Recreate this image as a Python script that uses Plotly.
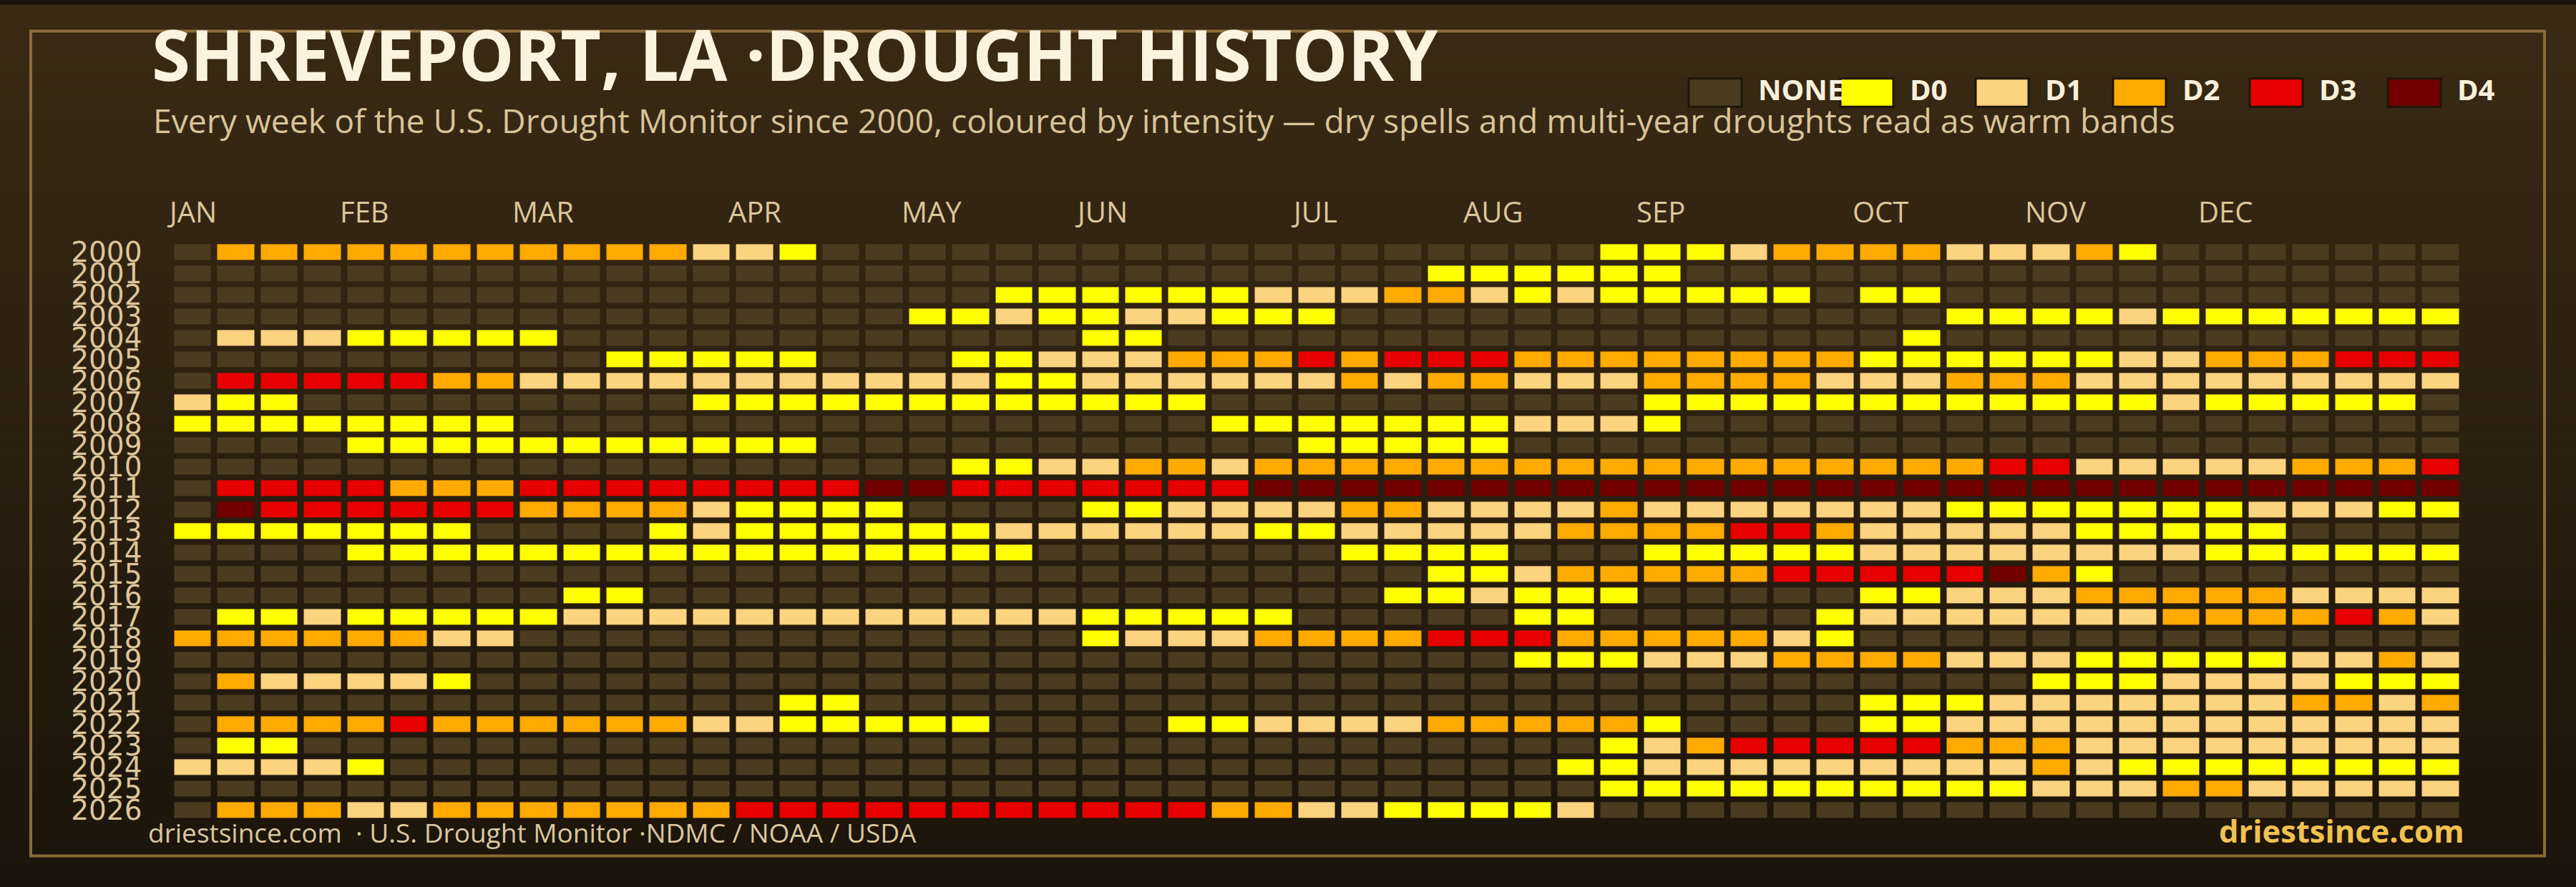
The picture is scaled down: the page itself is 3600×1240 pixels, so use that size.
import plotly.graph_objects as go

# ---------------- data ----------------
years = list(range(2000, 2027))
weeks = list(range(53))
month_labels = ["JAN", "FEB", "MAR", "APR", "MAY", "JUN", "JUL", "AUG", "SEP", "OCT", "NOV", "DEC"]
month_weeks = [0, 4, 8, 13, 17, 21, 26, 30, 34, 39, 43, 47]
levels = ["NONE", "D0", "D1", "D2", "D3", "D4"]
level_colors = ["#4a3b21", "#ffff00", "#fcd37f", "#ffaa00", "#e60000", "#730000"]

# weekly drought category per year ('.' = none, 0-4 = D0-D4), blocks of 10 weeks
w2000 = ".222222222 22110..... .......... ...0001222 211120.... ..."
w2001 = ".......... .......... .........0 00000..... .......... ..."
w2002 = ".......... .........0 0000011122 10100000.0 0......... ..."
w2003 = ".......... .......001 0011000... .......... .000010000 000"
w2004 = ".11100000. .......... .00....... .......... 0......... ..."
w2005 = ".......... 00000...00 1112223233 3222222220 0000011222 333"
w2006 = ".333332211 1111111110 0111111212 2111222211 1222111111 111"
w2007 = "100....... ..00000000 0000...... ....000000 0000001000 00."
w2008 = "00000000.. .......... ....000000 01110..... .......... ..."
w2009 = "....000000 00000..... ......0000 0......... .......... ..."
w2010 = ".......... ........00 1122122222 2222222222 2233111112 223"
w2011 = ".333322233 3333334433 3333344444 4444444444 4444444444 444"
w2012 = ".433333322 2210000... .001111221 1112111111 1000000011 100"
w2013 = "0000000... .010000001 1111100111 1122223321 111100000. ..."
w2014 = "....000000 0000000000 .......000 0...000001 1111111000 000"
w2015 = ".......... .......... .........0 0122222333 33420..... ..."
w2016 = ".........0 0......... ........00 1000.....0 0111222221 111"
w2017 = ".001000001 1111111111 100000.... .00.....01 1111112222 321"
w2018 = "22222211.. .......... .011122223 332222210. .......... ..."
w2019 = ".......... .......... .......... .000111222 2111000001 121"
w2020 = ".211110... .......... .......... .......... ...0001111 000"
w2021 = ".......... ....00.... .......... .........0 0011111112 212"
w2022 = ".222232222 221100000. ...0011112 22220....0 0111111111 111"
w2023 = ".00....... .......... .......... ...0123333 3222111111 111"
w2024 = "11110..... .......... .......... ..00111111 1112100000 000"
w2025 = ".......... .......... .......... ...0000000 0001112211 111"
w2026 = ".222112222 2223333333 3333221100 001....... .......... ..."

rows = [w2000, w2001, w2002, w2003, w2004, w2005, w2006, w2007, w2008, w2009,
        w2010, w2011, w2012, w2013, w2014, w2015, w2016, w2017, w2018, w2019,
        w2020, w2021, w2022, w2023, w2024, w2025, w2026]


def decode(s):
    s = s.replace(" ", "")
    assert len(s) == 53, (s, len(s))
    return [-1 if ch == "." else int(ch) for ch in s]


z = [decode(r) for r in rows]

# ---------------- styling helpers ----------------
W, H = 3600, 1240
FONT = "Open Sans"
PITCH = (3441 - 239.5) / 53.0


def px(x):
    return x / W


def py(y):
    return 1 - y / H


# stepped colour scale for -1..4
n = len(level_colors)
cs = []
for i, c in enumerate(level_colors):
    a = 0 if i == 0 else (i - 0.5) / (n - 1)
    b = 1 if i == n - 1 else (i + 0.5) / (n - 1)
    cs.append([a, c])
    cs.append([b, c])

fig = go.Figure()
fig.add_trace(go.Heatmap(
    x=weeks, y=years, z=z, zmin=-1, zmax=4, colorscale=cs, showscale=False,
    xgap=9, ygap=8, hoverinfo="skip"))

shapes = []
# background gradient
nb = 62
for i in range(nb):
    y0, y1 = i * H / nb, (i + 1) * H / nb
    ym = (y0 + y1) / 2
    r = 58.4 - 0.0247 * ym
    g = 42.4 - 0.0185 * ym
    b = 20.1 - 0.0079 * ym
    col = "rgb(%d,%d,%d)" % (round(r), round(g), round(b))
    shapes.append(dict(type="rect", xref="paper", yref="paper", x0=0, x1=1,
                       y0=py(y1 + 0.5), y1=py(y0 - 0.5), fillcolor=col,
                       line=dict(width=0), layer="below"))
# frame
shapes.append(dict(type="rect", xref="paper", yref="paper", x0=px(43), x1=px(3556),
                   y0=py(1203), y1=py(37), line=dict(color="#8b6d3a", width=4),
                   fillcolor="rgba(0,0,0,0)", layer="below"))

annotations = []
# legend
swatch_x = [2360, 2572, 2761, 2953, 3144, 3337]
for sx, lab, col in zip(swatch_x, levels, level_colors):
    shapes.append(dict(type="rect", xref="paper", yref="paper", x0=px(sx), x1=px(sx + 74),
                       y0=py(144), y1=py(104), fillcolor=col,
                       line=dict(color="#1e1608", width=3), layer="above"))
    annotations.append(dict(x=px(sx + 95), y=py(119), xref="paper", yref="paper",
                            text="<b>%s</b>" % lab, showarrow=False, xanchor="left",
                            yanchor="middle", font=dict(family=FONT, size=40, color="#f8f0dc")))

# month labels
for m, wk in zip(month_labels, month_weeks):
    annotations.append(dict(x=wk, xshift=-0.64 * PITCH, y=py(292), xref="x", yref="paper",
                            text=m, showarrow=False, xanchor="left", yanchor="middle",
                            font=dict(family=FONT, size=40, color="#dcc69b")))

# title / subtitle
annotations.append(dict(x=px(210), y=py(69), xref="paper", yref="paper",
                        text="<b>SHREVEPORT, LA ·DROUGHT HISTORY</b>", showarrow=False,
                        xanchor="left", yanchor="middle",
                        font=dict(family=FONT, size=98, color="#fbf3e0")))
annotations.append(dict(x=px(212), y=py(163), xref="paper", yref="paper",
                        text="Every week of the U.S. Drought Monitor since 2000, coloured by intensity — dry spells and multi-year droughts read as warm bands",
                        showarrow=False, xanchor="left", yanchor="middle",
                        font=dict(family=FONT, size=46.3, color="#d8c49a")))
# footer
annotations.append(dict(x=px(205), y=py(1170), xref="paper", yref="paper",
                        text="driestsince.com \u00a0· U.S. Drought Monitor ·NDMC / NOAA / USDA",
                        showarrow=False, xanchor="left", yanchor="middle",
                        font=dict(family=FONT, size=37, color="#d9c7a0")))
annotations.append(dict(x=px(3446), y=py(1168), xref="paper", yref="paper",
                        text="<b>driestsince.com</b>", showarrow=False, xanchor="right",
                        yanchor="middle", font=dict(family=FONT, size=43.5, color="#f0c24f")))

fig.update_layout(
    width=W, height=H, autosize=False,
    margin=dict(l=0, r=0, t=0, b=0, pad=0),
    paper_bgcolor="#1c140a", plot_bgcolor="rgba(0,0,0,0)",
    shapes=shapes, annotations=annotations, showlegend=False,
    xaxis=dict(domain=[px(239.5), px(3441)], range=[-0.5, 52.5], showgrid=False,
               zeroline=False, showticklabels=False, ticks="", fixedrange=True),
    yaxis=dict(domain=[py(1153.5), py(334.1)], range=[2026.5, 1999.5], showgrid=False,
               zeroline=False, tickmode="array", tickvals=years,
               ticktext=[str(y) for y in years], ticks="", ticklabelstandoff=40,
               tickfont=dict(family="DejaVu Sans", size=39, color="#dcc69b"), fixedrange=True),
)

post = ("var d=document.getElementById('{plot_id}');"
        "d.style.position='fixed';d.style.left='0px';d.style.top='0px';"
        "document.body.style.margin='0';document.documentElement.style.overflow='hidden';"
        "document.body.style.overflow='hidden';document.body.style.background='#1c140a';")
fig.write_html("out.html", config={"displayModeBar": False}, post_script=post)
